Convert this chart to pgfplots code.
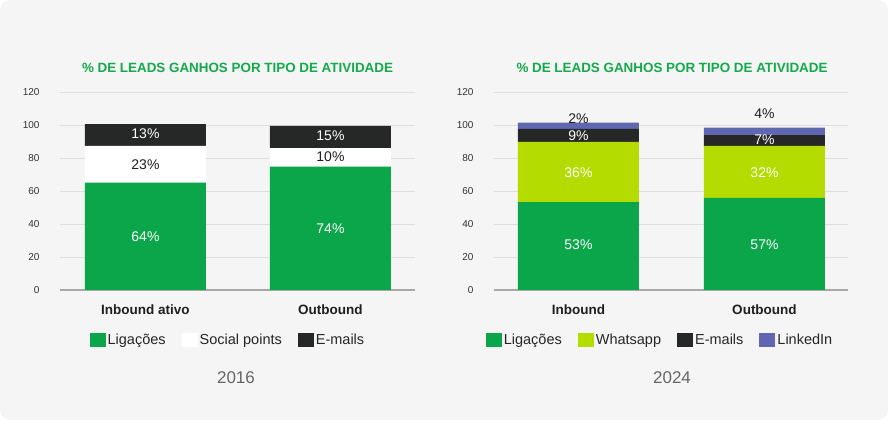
\documentclass[border=0pt]{standalone}
\usepackage{pgfplots}
\pgfplotsset{compat=1.18}
\usepackage{fontspec}
\setmainfont{Liberation Sans}
\definecolor{bgc}{HTML}{F5F5F5}
\definecolor{cgreen}{HTML}{0BA54A}
\definecolor{cyellow}{HTML}{B5DC00}
\definecolor{cdark}{HTML}{262828}
\definecolor{cblue}{HTML}{5F67B0}
\definecolor{ctitle}{HTML}{14A94B}
\definecolor{gridc}{HTML}{DEDEDE}
\definecolor{basec}{HTML}{A8A8A8}
\definecolor{tickc}{HTML}{333333}
\definecolor{yearc}{HTML}{666666}
\tikzset{lab/.style={font=\fontsize{14}{16}\selectfont}}
\pgfplotsset{mybase/.style={
  scale only axis, height=198pt, anchor=south west,
  ybar stacked, bar width=121pt,
  ymin=0, ymax=120, ytick={0,20,...,120}, xtick={0,1},
  enlargelimits=false,
  axis line style={draw=none}, major tick length=0pt,
  ymajorgrids, grid style={color=gridc, line width=0.8pt},
  extra y ticks={0}, extra y tick labels={},
  extra y tick style={grid style={color=basec, line width=1.6pt}},
  yticklabel style={font=\fontsize{10}{12}\selectfont, color=tickc, xshift=-17pt},
  /pgf/number format/assume math mode=true,
  xticklabel style={font=\fontsize{13.5}{15}\selectfont\bfseries, color=black!88, yshift=-11pt},
  legend columns=-1,
  legend style={draw=none, fill=none, font=\fontsize{14.5}{16}\selectfont, text=black!85,
    anchor=north, /tikz/every even column/.append style={column sep=14pt}},
  legend image code/.code={\fill[##1] (0pt,-7pt) rectangle (16pt,7pt);},
}}
\begin{document}
\begin{tikzpicture}
\fill[bgc, rounded corners=10pt] (0pt,0pt) rectangle (888pt,420pt);
% ---- 2016 ----
\begin{axis}[mybase, at={(60pt,130pt)}, width=355pt,
  xmin=-0.462, xmax=1.457,
  xticklabels={Inbound ativo, Outbound},
  legend style={at={(0.473,-0.20)}},
  after end axis/.append code={
    \node[lab, text=white] at (axis cs:0,32.3) {64\%};
    \node[lab, text=black!88] at (axis cs:0,75.8) {23\%};
    \node[lab, text=white] at (axis cs:0,94.5) {13\%};
    \node[lab, text=white] at (axis cs:1,37) {74\%};
    \node[lab, text=black!88] at (axis cs:1,80.6) {10\%};
    \node[lab, text=white] at (axis cs:1,93.3) {15\%};
  }]
\addplot[fill=cgreen, draw=none] coordinates {(0,65) (1,74.7)};
\addplot[fill=white, draw=none] coordinates {(0,22.3) (1,11.3)};
\addplot[fill=cdark, draw=none] coordinates {(0,13.3) (1,13.4)};
\legend{Ligações, Social points, E-mails}
\end{axis}
% ---- 2024 ----
\begin{axis}[mybase, at={(494pt,130pt)}, width=354pt,
  xmin=-0.454, xmax=1.449,
  xticklabels={Inbound, Outbound},
  legend style={at={(0.469,-0.20)}},
  after end axis/.append code={
    \node[lab, text=white] at (axis cs:0,27.3) {53\%};
    \node[lab, text=white] at (axis cs:0,71.1) {36\%};
    \node[lab, text=white] at (axis cs:0,93.3) {9\%};
    \node[lab, text=black!88] at (axis cs:0,104) {2\%};
    \node[lab, text=white] at (axis cs:1,27.3) {57\%};
    \node[lab, text=white] at (axis cs:1,71.1) {32\%};
    \node[lab, text=white] at (axis cs:1,91.3) {7\%};
    \node[lab, text=black!88] at (axis cs:1,107) {4\%};
  }]
\addplot[fill=cgreen, draw=none] coordinates {(0,53.3) (1,55.9)};
\addplot[fill=cyellow, draw=none] coordinates {(0,36.4) (1,31.4)};
\addplot[fill=cdark, draw=none] coordinates {(0,7.9) (1,6.6)};
\addplot[fill=cblue, draw=none] coordinates {(0,3.8) (1,4.5)};
\legend{Ligações, Whatsapp, E-mails, LinkedIn}
\end{axis}
% titles and years
\node[text=ctitle, font=\fontsize{13.4}{15}\selectfont\bfseries] at (237.5pt,352pt) {\% DE LEADS GANHOS POR TIPO DE ATIVIDADE};
\node[text=ctitle, font=\fontsize{13.4}{15}\selectfont\bfseries] at (672pt,352pt) {\% DE LEADS GANHOS POR TIPO DE ATIVIDADE};
\node[text=yearc, font=\fontsize{17}{20}\selectfont] at (236pt,42pt) {2016};
\node[text=yearc, font=\fontsize{17}{20}\selectfont] at (672pt,42pt) {2024};
\end{tikzpicture}
\end{document}
